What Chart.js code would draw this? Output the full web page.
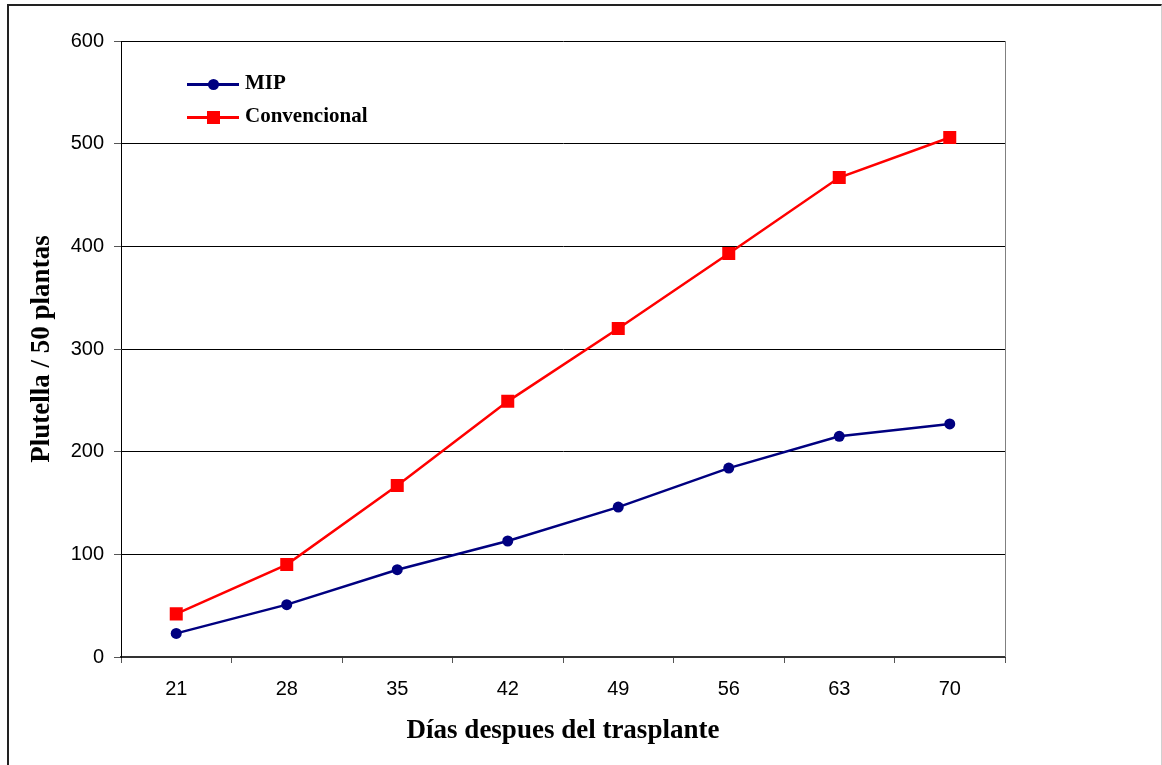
<!DOCTYPE html>
<html>
<head>
<meta charset="utf-8">
<script src="https://cdn.jsdelivr.net/npm/chart.js@4"></script>
<style>
  body { margin: 0; background: #fff; }
  #wrap { position: relative; width: 1162px; height: 765px; overflow: hidden; }
  #frame {
    position: absolute; left: 7px; top: 4px; width: 1152px; height: 800px;
    border-left: 2px solid #222; border-top: 2px solid #222; border-right: 1px solid #d0d0d0;
  }
  canvas { position: absolute; left: 0; top: 0; }
  .leg { position: absolute; left: 187px; height: 20px; font: bold 21px "Liberation Serif", serif; }
  .leg .ln { position: absolute; left: 0; top: 9px; width: 52px; height: 3px; }
  .leg .mk { position: absolute; }
  .leg .tx { position: absolute; left: 58px; top: -4px; white-space: nowrap; color: #000; }
</style>
</head>
<body>
<div id="wrap">
  <div id="frame"></div>
  <canvas id="progressChart" width="1162" height="765"></canvas>
  <div class="leg" style="top:74px">
    <div class="ln" style="background:#000080"></div>
    <div class="mk" style="left:21px;top:5px;width:11px;height:11px;border-radius:50%;background:#000080"></div>
    <div class="tx">MIP</div>
  </div>
  <div class="leg" style="top:107px">
    <div class="ln" style="background:#ff0000"></div>
    <div class="mk" style="left:20px;top:4px;width:13px;height:13px;background:#ff0000"></div>
    <div class="tx">Convencional</div>
  </div>
</div>
<script>
let days = ["21", "28", "35", "42", "49", "56", "63", "70"];
let mip = [23, 51, 85, 113, 146, 184, 215, 227];
let convencional = [42, 90, 167, 249, 320, 393, 467, 506];
let yTicks = [0, 100, 200, 300, 400, 500, 600];

// gray line on the right edge of the plot
let rightEdge = {
    id: "rightEdge",
    afterDraw: function(chart) {
        let a = chart.chartArea;
        let ctx = chart.ctx;
        ctx.save();
        ctx.strokeStyle = "#808080";
        ctx.lineWidth = 1;
        ctx.beginPath();
        ctx.moveTo(a.right + 0.5, a.top);
        ctx.lineTo(a.right + 0.5, a.bottom);
        ctx.stroke();
        ctx.restore();
    }
};

let ctx = document.getElementById("progressChart").getContext("2d");
let chart = new Chart(ctx, {
    type: "line",
    data: {
        labels: days,
        datasets: [{
            label: "MIP",
            data: mip,
            borderColor: "#000080",
            backgroundColor: "#000080",
            borderWidth: 2.5,
            pointStyle: "circle",
            pointRadius: 5.5,
            pointBorderWidth: 0,
            tension: 0
        }, {
            label: "Convencional",
            data: convencional,
            borderColor: "#ff0000",
            backgroundColor: "#ff0000",
            borderWidth: 2.5,
            pointStyle: "rect",
            pointRadius: 9.2,
            pointBorderWidth: 0,
            tension: 0
        }]
    },
    options: {
        responsive: false,
        animation: false,
        layout: { autoPadding: false, padding: { left: 0, top: 41, right: 157, bottom: 0 } },
        plugins: { legend: { display: false }, tooltip: { enabled: false } },
        elements: { point: { hoverRadius: 0 } },
        scales: {
            x: {
                offset: true,
                afterFit: function(s) { s.height = 108; },
                grid: { offset: true, drawOnChartArea: false, color: "#555", tickLength: 6 },
                border: { color: "#333", width: 2 },
                ticks: { color: "#000", padding: 14, font: { family: "Liberation Sans", size: 20 } },
                title: {
                    display: true,
                    text: "Días despues del trasplante",
                    color: "#000",
                    font: { family: "Liberation Serif", size: 27, weight: "bold" },
                    padding: { top: 0, bottom: 18 }
                }
            },
            y: {
                min: 0,
                max: 600,
                afterFit: function(s) { s.width = 121; },
                afterBuildTicks: function(s) { s.ticks = yTicks.map(function(v) { return { value: v }; }); },
                grid: { color: "#000", lineWidth: 1, tickLength: 7, tickColor: "#555" },
                border: { color: "#000", width: 1 },
                ticks: { color: "#000", padding: 10, font: { family: "Liberation Sans", size: 20 } },
                title: {
                    display: true,
                    text: "Plutella / 50 plantas",
                    color: "#000",
                    font: { family: "Liberation Serif", size: 27, weight: "bold" },
                    padding: { top: 26, bottom: 0 }
                }
            }
        }
    },
    plugins: [rightEdge]
});
</script>
</body>
</html>
